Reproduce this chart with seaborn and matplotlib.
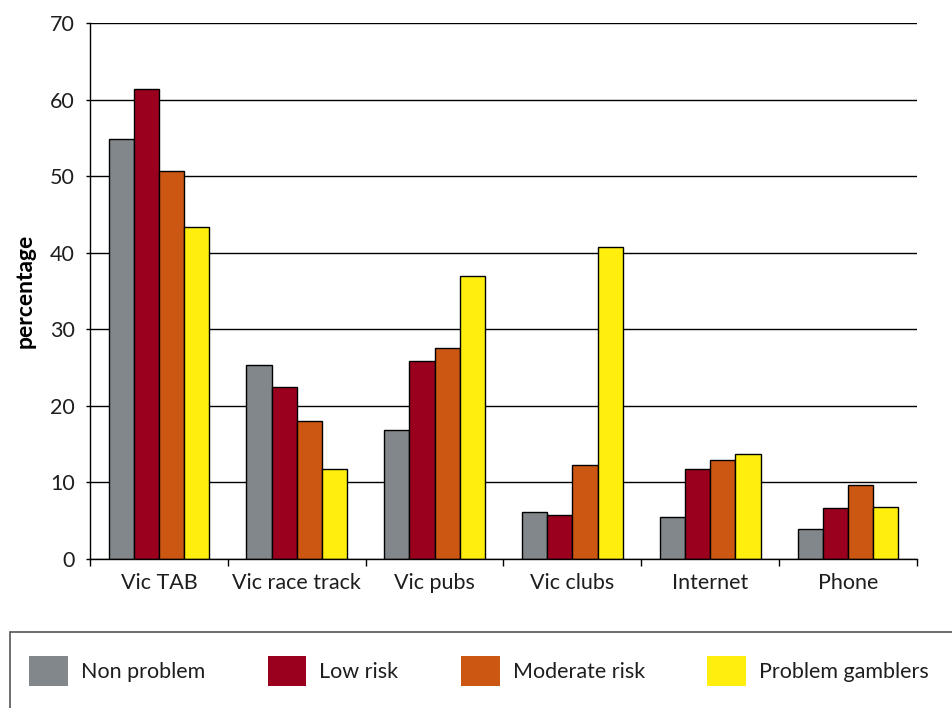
import numpy as np
import pandas as pd
import matplotlib
matplotlib.use('Agg')
import matplotlib.pyplot as plt
import seaborn as sns
from matplotlib.patches import Rectangle

# data
venues = ['Vic TAB', 'Vic race track', 'Vic pubs', 'Vic clubs', 'Internet', 'Phone']
groups = ['Non problem', 'Low risk', 'Moderate risk', 'Problem gamblers']
non_problem = [54.8, 25.3, 16.9, 6.2, 5.5, 3.9]
low_risk = [61.4, 22.5, 25.9, 5.7, 11.8, 6.7]
moderate_risk = [50.7, 18.0, 27.6, 12.3, 12.9, 9.6]
problem_gamblers = [43.4, 11.7, 37.0, 40.8, 13.7, 6.8]
colors = ['#81878a', '#9a001e', '#cc5712', '#ffee0e']

df = pd.DataFrame({
    'venue': venues * 4,
    'group': np.repeat(groups, len(venues)),
    'pct': non_problem + low_risk + moderate_risk + problem_gamblers,
})

sns.set_style('white')
plt.rcParams['font.family'] = ['Lato', 'DejaVu Sans']

fig = plt.figure(figsize=(9.52, 7.08), dpi=100)
ax = fig.add_axes([90 / 952, 1 - 559 / 708, 827 / 952, 536 / 708])

sns.barplot(data=df, x='venue', y='pct', hue='group', order=venues, hue_order=groups,
            palette=colors, width=0.73, edgecolor='black', linewidth=1, saturation=1, ax=ax)

ax.set_ylim(0, 70)
ax.set_xlim(-0.5, 5.5)
ax.set_yticks(np.arange(0, 71, 10))
ax.yaxis.grid(True, color='black', linewidth=1)
ax.set_axisbelow(True)
for s in ['top', 'right']:
    ax.spines[s].set_visible(False)
for s in ['left', 'bottom']:
    ax.spines[s].set_color('black')
    ax.spines[s].set_linewidth(1)

txt = '#1e1e1e'
ax.tick_params(axis='y', left=True, length=3, width=1, color='black', labelsize=15.5, pad=8, labelcolor=txt)
ax.tick_params(axis='x', which='major', length=0, labelsize=15.5, pad=10, labelcolor=txt)
ax.set_xticks(np.arange(-0.5, 6, 1), minor=True)
ax.tick_params(axis='x', which='minor', bottom=True, length=5, width=1, color='black')

ax.set_xlabel('')
ax.set_ylabel('percentage', fontsize=16.5, fontweight='bold', labelpad=10, color='black')

handles, labels = ax.get_legend_handles_labels()
ax.legend_.remove()
fig.legend(handles, labels, loc='center left', bbox_to_anchor=(10 / 952, 1 - 671 / 708),
           ncol=4, frameon=False, fontsize=15.5, handlelength=1.8, handleheight=1.8,
           handletextpad=0.6, columnspacing=2.9, labelcolor=txt)
for h in fig.legends[0].legend_handles:
    h.set_edgecolor('none')

fig.add_artist(Rectangle((10 / 952, -0.1), 1.1, 0.1 + 1 - 632 / 708, transform=fig.transFigure,
                         fill=False, edgecolor='#555555', linewidth=1.2, clip_on=False))

fig.savefig('out.png', dpi=100)
